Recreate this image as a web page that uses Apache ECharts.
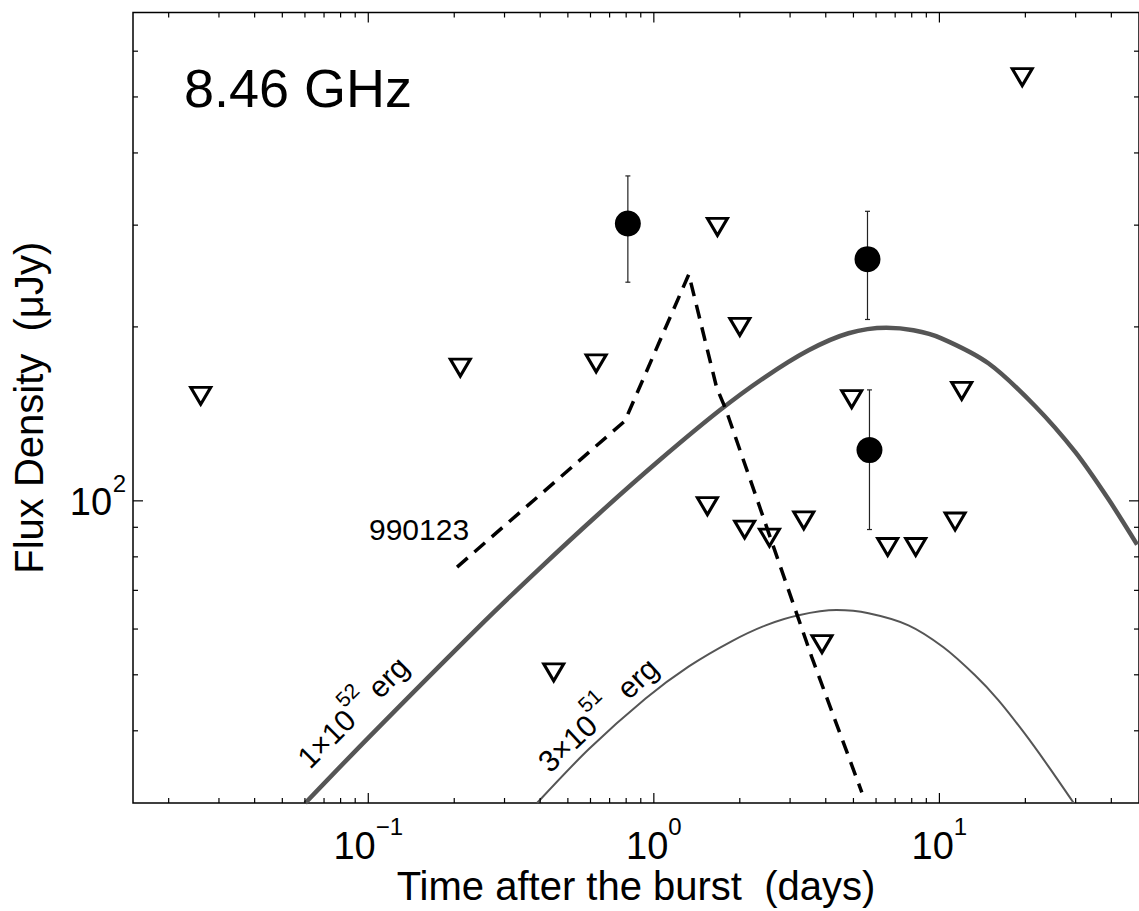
<!DOCTYPE html>
<html>
<head>
<meta charset="utf-8">
<script src="https://cdn.jsdelivr.net/npm/echarts@6/dist/echarts.min.js"></script>
<style>
html,body{margin:0;padding:0;background:#fff;}
#chart{width:1139px;height:911px;}
</style>
</head>
<body>
<div id="chart"></div>
<script>
// ---------------- data ----------------
const X_MIN = 0.015, X_MAX = 50;
const Y_MIN = 30, Y_MAX = 700;

const xMajorTicks = [0.1, 1, 10];
const xMajorExps = ['\u22121', '0', '1'];
const xMinorTicks = [0.02,0.03,0.04,0.05,0.06,0.07,0.08,0.09,
                     0.2,0.3,0.4,0.5,0.6,0.7,0.8,0.9,
                     2,3,4,5,6,7,8,9,20,30,40];
const yMajorTicks = [100];
const yMajorExps = ['2'];
const yMinorTicks = [40,50,60,70,80,90,200,300,400,500,600];

// upper limits (open inverted triangles)
const limT = [0.0259, 0.210, 0.628, 1.67, 2.0, 4.93, 11.97, 19.5, 1.54, 2.08, 2.54, 3.35, 6.59, 8.26, 11.35, 3.88, 0.446];
const limF = [152, 170, 173, 298, 200, 150, 155, 541, 97.9, 89.2, 86.4, 92.5, 83.2, 83.2, 92.1, 56.5, 50.5];

// detections with error bars
const detT  = [0.811, 5.60, 5.69];
const detF  = [302, 262, 122.4];
const detLo = [239, 206, 89.2];
const detHi = [365, 317, 155.6];

// model light curve, E = 1e52 erg
const m52T = [0.0602, 0.1, 0.2444, 0.3962, 0.6421, 1.041, 1.688, 2.424, 3.483, 4.807, 6.527, 8.11, 10.16, 14.84, 21.66, 29.89, 39.0, 49.24];
const m52F = [30.0, 38.9, 60.6, 76.2, 95.0, 117.3, 143.0, 163.1, 182.2, 195.0, 199.3, 197.3, 191.1, 173.0, 145.8, 121.5, 100.8, 84.0];

// model light curve, E = 3e51 erg
const m51T = [0.39, 0.5924, 0.9355, 1.326, 1.878, 2.464, 3.214, 4.364, 5.646, 7.793, 10.33, 13.33, 16.08, 19.94, 24.05, 29.53];
const m51F = [30, 37.2, 45.5, 51.7, 57.2, 60.9, 63.4, 64.7, 63.9, 60.9, 55.8, 49.9, 45.2, 39.5, 34.75, 30];

// GRB 990123 scaled light curve (dashed)
const g990T = [0.2046, 0.792, 1.326, 1.66, 1.785, 3.40, 3.57, 5.35];
const g990F = [76.8, 137.5, 246.6, 156.9, 144.2, 57.6, 53.7, 31.3];

// ---------------- helpers ----------------
const FONT = '"Liberation Sans", Arial, Helvetica, sans-serif';
const TICK_FS = 38, SUP_FS = 24;
const measureCtx = document.createElement('canvas').getContext('2d');
function textW(t, fs) { measureCtx.font = fs + 'px ' + FONT; return measureCtx.measureText(t).width; }
const zip = (a, b) => a.map((v, i) => [v, b[i]]);

function txt(text, x, y, fs, align) {
  return {type: 'text', style: {text: text, x: x, y: y, fontSize: fs, fontFamily: FONT, fill: '#000',
          align: align || 'left', verticalAlign: 'middle'}};
}

const TICK_STYLE = {stroke: '#000', lineWidth: 1.2};

function renderXTicks(params, api) {
  const v = api.value(0);
  const mi = xMajorTicks.indexOf(v);
  const len = mi >= 0 ? 10 : 5;
  const pb = api.coord([v, Y_MIN]);
  const pt = api.coord([v, Y_MAX]);
  const ch = [
    {type: 'line', shape: {x1: pb[0], y1: pb[1], x2: pb[0], y2: pb[1] - len}, style: TICK_STYLE},
    {type: 'line', shape: {x1: pt[0], y1: pt[1], x2: pt[0], y2: pt[1] + len}, style: TICK_STYLE}
  ];
  if (mi >= 0) {
    const sup = xMajorExps[mi];
    const w1 = textW('10', TICK_FS), w2 = textW(sup, SUP_FS);
    const left = pb[0] - (w1 + w2) / 2;
    ch.push(txt('10', left, pb[1] + 43, TICK_FS, 'left'));
    ch.push(txt(sup, left + w1, pb[1] + 23.5, SUP_FS, 'left'));
  }
  return {type: 'group', children: ch};
}

function renderYTicks(params, api) {
  const v = api.value(1);
  const mi = yMajorTicks.indexOf(v);
  const len = mi >= 0 ? 10 : 5;
  const pl = api.coord([X_MIN, v]);
  const pr = api.coord([X_MAX, v]);
  const ch = [
    {type: 'line', shape: {x1: pl[0], y1: pl[1], x2: pl[0] + len, y2: pl[1]}, style: TICK_STYLE},
    {type: 'line', shape: {x1: pr[0], y1: pr[1], x2: pr[0] - len, y2: pr[1]}, style: TICK_STYLE}
  ];
  if (mi >= 0) {
    const sup = yMajorExps[mi];
    const w2 = textW(sup, SUP_FS);
    const right = pl[0] - 7;
    ch.push(txt(sup, right, pl[1] - 17.5, SUP_FS, 'right'));
    ch.push(txt('10', right - w2 - 0.5, pl[1] + 1, TICK_FS, 'right'));
  }
  return {type: 'group', children: ch};
}

function renderErr(params, api) {
  const t = api.value(0);
  const lo = api.coord([t, api.value(1)]);
  const hi = api.coord([t, api.value(2)]);
  const st = {stroke: '#222', lineWidth: 1.2};
  const c = 2.5;
  return {type: 'group', children: [
    {type: 'line', shape: {x1: lo[0], y1: lo[1], x2: hi[0], y2: hi[1]}, style: st},
    {type: 'line', shape: {x1: lo[0] - c, y1: lo[1], x2: lo[0] + c, y2: lo[1]}, style: st},
    {type: 'line', shape: {x1: hi[0] - c, y1: hi[1], x2: hi[0] + c, y2: hi[1]}, style: st}
  ]};
}

// rotated label with a superscript, built as a group
function energyLabel(x, y, deg, pre, sup, post) {
  const fs = 30, sfs = 21;
  const w1 = textW(pre, fs), w2 = textW(sup, sfs);
  return {
    type: 'group', x: x, y: y, rotation: deg * Math.PI / 180,
    children: [
      txt(pre, 0, -0.3465 * fs, fs, 'left'),
      txt(sup, w1, -19.5 - 0.3465 * sfs, sfs, 'left'),
      txt(post, w1 + w2, -0.3465 * fs, fs, 'left')
    ]
  };
}

// ---------------- chart ----------------
const chart = echarts.init(document.getElementById('chart'), null, {renderer: 'svg'});

const option = {
  animation: false,
  backgroundColor: '#fff',
  grid: {left: 133, right: -2, top: 12.5, bottom: 106, show: true,
         borderColor: '#000', borderWidth: 1.5, backgroundColor: 'transparent'},
  xAxis: {
    type: 'log', logBase: 10, min: X_MIN, max: X_MAX,
    axisLine: {show: false}, axisTick: {show: false}, axisLabel: {show: false}, splitLine: {show: false},
    name: 'Time after the burst\u00a0\u00a0(days)', nameLocation: 'middle', nameGap: 63,
    nameTextStyle: {fontSize: 40, fontFamily: FONT, color: '#000'}
  },
  yAxis: {
    type: 'log', logBase: 10, min: Y_MIN, max: Y_MAX,
    axisLine: {show: false}, axisTick: {show: false}, axisLabel: {show: false}, splitLine: {show: false},
    name: 'Flux Density\u00a0\u00a0(\u03bcJy)', nameLocation: 'middle', nameGap: 84, nameRotate: 90,
    nameTextStyle: {fontSize: 40, fontFamily: FONT, color: '#000'}
  },
  graphic: [
    {type: 'text', x: 184, y: 88, style: {text: '8.46 GHz', fontSize: 54, fontFamily: FONT, fill: '#000', align: 'left', verticalAlign: 'middle'}},
    {type: 'text', x: 369, y: 529.6, style: {text: '990123', fontSize: 30, fontFamily: FONT, fill: '#000', align: 'left', verticalAlign: 'middle'}},
    energyLabel(310, 770, 45, '1\u00d710', '52', ' erg'),
    energyLabel(550, 774, 43, '3\u00d710', '51', '\u00a0\u00a0erg')
  ],
  series: [
    {type: 'line', name: '1e52 erg', data: zip(m52T, m52F), smooth: 0.3, symbol: 'none',
     lineStyle: {color: '#555', width: 4.5}, clip: true, silent: true, z: 2},
    {type: 'line', name: '3e51 erg', data: zip(m51T, m51F), smooth: 0.3, symbol: 'none',
     lineStyle: {color: '#555', width: 2}, clip: true, silent: true, z: 2},
    {type: 'line', name: '990123', data: zip(g990T, g990F), smooth: false, symbol: 'none',
     lineStyle: {color: '#000', width: 3.5, type: [14, 9]}, clip: true, silent: true, z: 3},
    {type: 'custom', name: 'errors', data: detT.map((t, i) => [t, detLo[i], detHi[i]]),
     encode: {x: 0, y: [1, 2]}, renderItem: renderErr, silent: true, z: 4},
    {type: 'scatter', name: 'detections', data: zip(detT, detF), symbol: 'circle', symbolSize: 26,
     itemStyle: {color: '#000', opacity: 1}, silent: true, z: 5},
    {type: 'scatter', name: 'upper limits', data: zip(limT, limF), symbol: 'triangle', symbolRotate: 180,
     symbolSize: [20, 17], itemStyle: {color: 'rgba(0,0,0,0)', borderColor: '#000', borderWidth: 3, opacity: 1},
     silent: true, z: 6},
    {type: 'custom', name: 'xticks', data: xMajorTicks.concat(xMinorTicks).map(v => [v, 100]),
     encode: {x: 0, y: 1}, renderItem: renderXTicks, clip: false, silent: true, z: 10},
    {type: 'custom', name: 'yticks', data: yMajorTicks.concat(yMinorTicks).map(v => [1, v]),
     encode: {x: 0, y: 1}, renderItem: renderYTicks, clip: false, silent: true, z: 10}
  ]
};
chart.setOption(option);
</script>
</body>
</html>
